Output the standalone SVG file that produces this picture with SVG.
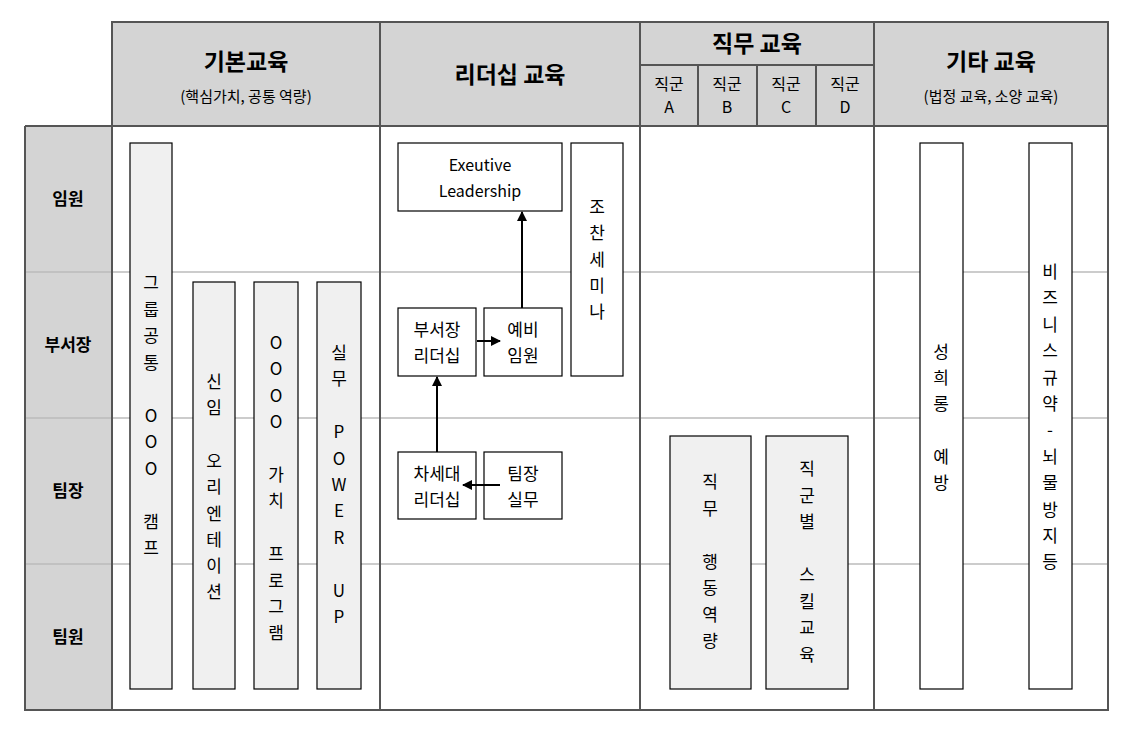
<svg xmlns="http://www.w3.org/2000/svg" width="1140" height="735" viewBox="0 0 1140 735">
<style>
text{font-family:"Noto Sans CJK KR","Noto Sans",sans-serif;fill:#000;text-anchor:middle}
.h{font-size:23px;font-weight:bold}
.s{font-size:15px}
.r{font-size:17px;font-weight:bold}
.t{font-size:16px}
.v{font-size:17px}
.bx{fill:#fff;stroke:#000;stroke-width:1.2}
.gb{fill:#f0f0f0;stroke:#000;stroke-width:1.2}
.grid{stroke:#555;stroke-width:2;fill:none}
.row{stroke:#bbb;stroke-width:1.5}
.c{stroke:#000;stroke-width:2;fill:none;marker-end:url(#a)}
</style>
<defs><marker id="a" viewBox="0 0 10 10" refX="9" refY="5" markerWidth="5" markerHeight="5" orient="auto"><path d="M0 0L10 5L0 10z"/></marker></defs>
<rect x="0" y="0" width="1140" height="735" fill="#fff"/>
<g id="grid">
<rect x="112" y="22" width="996" height="104" fill="#d4d4d4"/>
<rect x="25" y="126" width="87" height="584" fill="#d4d4d4"/>
<line class="row" x1="25" y1="272" x2="1108" y2="272"/>
<line class="row" x1="25" y1="418" x2="1108" y2="418"/>
<line class="row" x1="25" y1="564" x2="1108" y2="564"/>
<rect class="grid" x="112" y="22" width="996" height="688"/>
<path class="grid" d="M25 126H1108M25 126V710H112M380 22V710M640 22V710M874 22V710M640 65H874M698 65V126M757 65V126M816 65V126"/>
</g>
<g id="headers">
<text class="h" x="246" y="70">기본교육</text>
<text class="s" x="246" y="102">(핵심가치, 공통 역량)</text>
<text class="h" x="510" y="83">리더십 교육</text>
<text class="h" x="757" y="52">직무 교육</text>
<text class="t" x="669" y="90">직군</text><text class="t" x="669" y="113">A</text>
<text class="t" x="727" y="90">직군</text><text class="t" x="727" y="113">B</text>
<text class="t" x="786" y="90">직군</text><text class="t" x="786" y="113">C</text>
<text class="t" x="845" y="90">직군</text><text class="t" x="845" y="113">D</text>
<text class="h" x="991" y="70">기타 교육</text>
<text class="s" x="991" y="102">(법정 교육, 소양 교육)</text>
<text class="r" x="68" y="205">임원</text>
<text class="r" x="68" y="351">부서장</text>
<text class="r" x="68" y="497">팀장</text>
<text class="r" x="68" y="643">팀원</text>
</g>
<g id="n1"><rect class="gb" x="130" y="143" width="42" height="546"/>
<text class="v" x="151" y="289">그<tspan x="151" dy="26.5">룹</tspan><tspan x="151" dy="26.5">공</tspan><tspan x="151" dy="26.5">통</tspan><tspan x="151" dy="53">O</tspan><tspan x="151" dy="26.5">O</tspan><tspan x="151" dy="26.5">O</tspan><tspan x="151" dy="53">캠</tspan><tspan x="151" dy="26.5">프</tspan></text></g>
<g id="n2"><rect class="gb" x="193" y="282" width="42" height="407"/>
<text class="v" x="214" y="388">신<tspan x="214" dy="26.3">임</tspan><tspan x="214" dy="52.6">오</tspan><tspan x="214" dy="26.3">리</tspan><tspan x="214" dy="26.3">엔</tspan><tspan x="214" dy="26.3">테</tspan><tspan x="214" dy="26.3">이</tspan><tspan x="214" dy="26.3">션</tspan></text></g>
<g id="n3"><rect class="gb" x="254" y="282" width="44" height="407"/>
<text class="v" x="276" y="349">O<tspan x="276" dy="26.4">O</tspan><tspan x="276" dy="26.4">O</tspan><tspan x="276" dy="26.4">O</tspan><tspan x="276" dy="52.8">가</tspan><tspan x="276" dy="26.4">치</tspan><tspan x="276" dy="52.8">프</tspan><tspan x="276" dy="26.4">로</tspan><tspan x="276" dy="26.4">그</tspan><tspan x="276" dy="26.4">램</tspan></text></g>
<g id="n4"><rect class="gb" x="317" y="282" width="44" height="407"/>
<text class="v" x="339" y="359">실<tspan x="339" dy="26.4">무</tspan><tspan x="339" dy="52.8">P</tspan><tspan x="339" dy="26.4">O</tspan><tspan x="339" dy="26.4">W</tspan><tspan x="339" dy="26.4">E</tspan><tspan x="339" dy="26.4">R</tspan><tspan x="339" dy="52.8">U</tspan><tspan x="339" dy="26.4">P</tspan></text></g>
<g id="n5"><rect class="bx" x="398" y="143" width="164" height="68"/>
<text class="t" x="480" y="171">Exeutive</text><text class="t" x="480" y="197">Leadership</text></g>
<g id="n6"><rect class="bx" x="571" y="143" width="52" height="233"/>
<text class="v" x="597" y="213">조<tspan x="597" dy="26.3">찬</tspan><tspan x="597" dy="26.3">세</tspan><tspan x="597" dy="26.3">미</tspan><tspan x="597" dy="26.3">나</tspan></text></g>
<g id="n7"><rect class="bx" x="398" y="308" width="78" height="68"/>
<text class="v" x="437" y="336">부서장</text><text class="v" x="437" y="362">리더십</text></g>
<g id="n8"><rect class="bx" x="484" y="308" width="78" height="68"/>
<text class="v" x="523" y="336">예비</text><text class="v" x="523" y="362">임원</text></g>
<g id="n9"><rect class="bx" x="398" y="452" width="78" height="67"/>
<text class="v" x="437" y="480">차세대</text><text class="v" x="437" y="506">리더십</text></g>
<g id="n10"><rect class="bx" x="484" y="452" width="78" height="67"/>
<text class="v" x="523" y="480">팀장</text><text class="v" x="523" y="506">실무</text></g>
<g id="n11"><rect class="gb" x="670" y="436" width="81" height="253"/>
<text class="v" x="710" y="488">직<tspan x="710" dy="26.5">무</tspan><tspan x="710" dy="53">행</tspan><tspan x="710" dy="26.5">동</tspan><tspan x="710" dy="26.5">역</tspan><tspan x="710" dy="26.5">량</tspan></text></g>
<g id="n12"><rect class="gb" x="766" y="436" width="82" height="253"/>
<text class="v" x="807" y="475">직<tspan x="807" dy="26.5">군</tspan><tspan x="807" dy="26.5">별</tspan><tspan x="807" dy="53">스</tspan><tspan x="807" dy="26.5">킬</tspan><tspan x="807" dy="26.5">교</tspan><tspan x="807" dy="26.5">육</tspan></text></g>
<g id="n13"><rect class="bx" x="920" y="143" width="43" height="546"/>
<text class="v" x="941" y="358">성<tspan x="941" dy="26.2">희</tspan><tspan x="941" dy="26.2">롱</tspan><tspan x="941" dy="52.4">예</tspan><tspan x="941" dy="26.2">방</tspan></text></g>
<g id="n14"><rect class="bx" x="1029" y="143" width="43" height="546"/>
<text class="v" x="1050" y="278">비<tspan x="1050" dy="26.4">즈</tspan><tspan x="1050" dy="26.4">니</tspan><tspan x="1050" dy="26.4">스</tspan><tspan x="1050" dy="26.4">규</tspan><tspan x="1050" dy="26.4">약</tspan><tspan x="1050" dy="26.4">-</tspan><tspan x="1050" dy="26.4">뇌</tspan><tspan x="1050" dy="26.4">물</tspan><tspan x="1050" dy="26.4">방</tspan><tspan x="1050" dy="26.4">지</tspan><tspan x="1050" dy="26.4">등</tspan></text></g>
<g id="connectors">
<line class="c" x1="522" y1="308" x2="522" y2="212"/>
<line class="c" x1="477" y1="341" x2="500" y2="341"/>
<line class="c" x1="437" y1="452" x2="437" y2="377"/>
<line class="c" x1="500" y1="485" x2="463" y2="485"/>
</g>
</svg>
